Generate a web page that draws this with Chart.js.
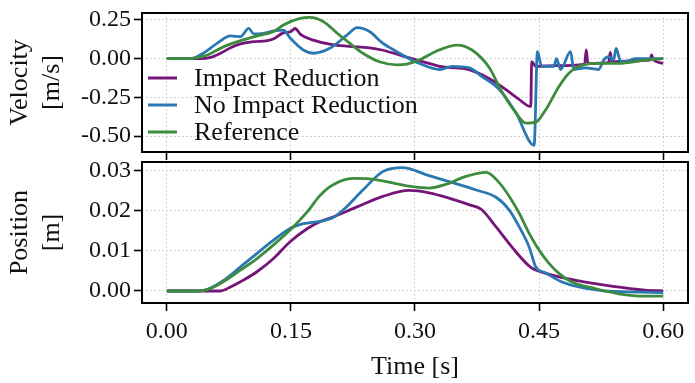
<!DOCTYPE html>
<html>
<head>
<meta charset="utf-8">
<script src="https://cdn.jsdelivr.net/npm/chart.js@4.4.0/dist/chart.umd.min.js"></script>
<style>
body { margin: 0; background: #fff; }
#wrap { position: relative; width: 695px; height: 383px; }
#velWrap { position: absolute; left: 0; top: 0; width: 695px; height: 160px; }
#posWrap { position: absolute; left: 0; top: 157px; width: 695px; height: 226px; }
</style>
</head>
<body>
<div id="wrap">
	<div id="velWrap"><canvas id="velChart"></canvas></div>
	<div id="posWrap"><canvas id="posChart"></canvas></div>
</div>
<script>
const seriesNames = ["Impact Reduction", "No Impact Reduction", "Reference"];
const seriesColors = ["#761578", "#2a78b2", "#3d8c3d"];
const xTicks = [0, 0.15, 0.3, 0.45, 0.6];
const velTicks = [-0.5, -0.25, 0, 0.25];
const posTicks = [0, 0.01, 0.02, 0.03];

// velocity [m/s], pairs of [time, value]
const velImpact = [
	[0, 0], [0.04, 0], [0.053, 0.008], [0.065, 0.035], [0.077, 0.07], [0.089, 0.095],
	[0.105, 0.11], [0.12, 0.115], [0.13, 0.13], [0.14, 0.165], [0.15, 0.175], [0.155, 0.195],
	[0.162, 0.155], [0.177, 0.12], [0.2, 0.09], [0.22, 0.08], [0.245, 0.07], [0.26, 0.056],
	[0.293, 0.005], [0.32, -0.035], [0.33, -0.05], [0.36, -0.065], [0.375, -0.09], [0.39, -0.13],
	[0.41, -0.2], [0.425, -0.26], [0.44, -0.31], [0.441, -0.02], [0.446, -0.05], [0.47, -0.045],
	[0.505, -0.035], [0.507, 0.056], [0.509, -0.03], [0.534, -0.025], [0.536, 0.04], [0.538, -0.02],
	[0.56, -0.015], [0.584, -0.01], [0.586, 0.024], [0.588, -0.005], [0.6, -0.03]
];
const velNoImpact = [
	[0, 0], [0.029, 0], [0.044, 0.035], [0.061, 0.1], [0.077, 0.147], [0.089, 0.142],
	[0.099, 0.196], [0.105, 0.16], [0.117, 0.164], [0.129, 0.179], [0.141, 0.185], [0.149, 0.134],
	[0.165, 0.056], [0.177, 0.035], [0.197, 0.067], [0.218, 0.153], [0.23, 0.2], [0.245, 0.175],
	[0.261, 0.1], [0.278, 0.045], [0.293, 0.0], [0.305, -0.03], [0.33, -0.07], [0.345, -0.05],
	[0.366, -0.06], [0.381, -0.116], [0.402, -0.2], [0.422, -0.35], [0.444, -0.56], [0.448, 0.045],
	[0.453, -0.05], [0.468, -0.05], [0.471, 0.0], [0.476, -0.07], [0.488, 0.045], [0.492, -0.07],
	[0.506, -0.06], [0.522, -0.07], [0.528, -0.01], [0.534, 0.013], [0.54, -0.01], [0.543, 0.067],
	[0.548, -0.01], [0.554, -0.02], [0.566, 0.0], [0.586, 0.0], [0.6, 0.0]
];
const velReference = [
	[0, 0], [0.023, 0], [0.035, 0.005], [0.049, 0.024], [0.069, 0.078], [0.089, 0.116],
	[0.109, 0.147], [0.129, 0.175], [0.141, 0.218], [0.161, 0.26], [0.173, 0.267], [0.189, 0.24],
	[0.206, 0.164], [0.221, 0.1], [0.237, 0.035], [0.257, -0.02], [0.278, -0.04], [0.29, -0.035],
	[0.305, -0.008], [0.329, 0.056], [0.351, 0.088], [0.369, 0.056], [0.39, -0.06], [0.405, -0.213],
	[0.422, -0.35], [0.434, -0.416], [0.446, -0.41], [0.458, -0.33], [0.474, -0.18], [0.486, -0.094],
	[0.498, -0.05], [0.518, -0.03], [0.546, -0.03], [0.578, -0.01], [0.6, 0.0]
];

// position [m], pairs of [time, value]
const posImpact = [
	[0, 0], [0.065, 0], [0.077, 0.001], [0.089, 0.0023], [0.109, 0.0048], [0.129, 0.0081],
	[0.149, 0.0123], [0.17, 0.0156], [0.185, 0.0173], [0.2, 0.0184], [0.23, 0.021], [0.261, 0.0236],
	[0.293, 0.0251], [0.317, 0.0245], [0.341, 0.0232], [0.366, 0.0215], [0.38, 0.0204], [0.398, 0.016],
	[0.417, 0.011], [0.44, 0.0059], [0.458, 0.0044], [0.498, 0.0025], [0.537, 0.0012], [0.578, 0.0002],
	[0.6, 0.0]
];
const posNoImpact = [
	[0, 0], [0.037, 0], [0.05, 0.0005], [0.069, 0.0027], [0.089, 0.006], [0.109, 0.0094],
	[0.129, 0.0127], [0.149, 0.0156], [0.165, 0.0168], [0.185, 0.0174], [0.2, 0.0182], [0.213, 0.0202],
	[0.237, 0.0252], [0.261, 0.0298], [0.285, 0.0308], [0.314, 0.029], [0.341, 0.0273], [0.374, 0.0252],
	[0.398, 0.0234], [0.414, 0.0202], [0.426, 0.016], [0.438, 0.011], [0.446, 0.006], [0.458, 0.0045],
	[0.477, 0.0023], [0.498, 0.001], [0.53, 0.0], [0.558, -0.0002], [0.6, -0.0004]
];
const posReference = [
	[0, 0], [0.037, 0], [0.05, 0.0004], [0.069, 0.0024], [0.089, 0.0052], [0.109, 0.0081],
	[0.129, 0.0115], [0.149, 0.0152], [0.17, 0.0198], [0.185, 0.0238], [0.2, 0.0264], [0.225, 0.0281],
	[0.245, 0.028], [0.27, 0.0271], [0.295, 0.0261], [0.317, 0.0257], [0.337, 0.0266], [0.36, 0.0285],
	[0.386, 0.0296], [0.402, 0.027], [0.414, 0.0236], [0.426, 0.0194], [0.438, 0.0144], [0.45, 0.0102],
	[0.462, 0.0069], [0.474, 0.0044], [0.489, 0.0023], [0.518, 0.0006], [0.546, -0.0007], [0.578, -0.0013],
	[0.6, -0.0013]
];

const serif = "'Liberation Serif', 'Times New Roman', serif";
const gridColor = "#c4c4c4";

function makeDatasets(list) {
	return list.map((pts, i) => ({
		label: seriesNames[i],
		data: pts.map(([x, y]) => ({ x: x, y: y })),
		borderColor: seriesColors[i],
		borderWidth: 2.8,
		pointRadius: 0,
		fill: false,
		cubicInterpolationMode: "monotone",
		order: 2 - i,
	}));
}

function fixTicks(values) {
	return (scale) => {
		scale.ticks = values.map((v) => ({ value: v }));
	};
}

const frame = {
	id: "frame",
	afterDraw(chart) {
		const { ctx, chartArea: a } = chart;
		ctx.save();
		ctx.strokeStyle = "#000";
		ctx.lineWidth = 2;
		ctx.strokeRect(a.left, a.top, a.right - a.left, a.bottom - a.top);
		ctx.restore();
	},
};

const innerLegend = {
	id: "innerLegend",
	afterDraw(chart) {
		const ctx = chart.ctx;
		ctx.save();
		ctx.font = "26px " + serif;
		ctx.textBaseline = "middle";
		const rows = [78, 105, 132];
		chart.data.datasets.forEach((ds, i) => {
			const y = rows[i];
			ctx.strokeStyle = ds.borderColor;
			ctx.lineWidth = 3;
			ctx.beginPath();
			ctx.moveTo(148, y);
			ctx.lineTo(177, y);
			ctx.stroke();
			ctx.fillStyle = "#111";
			ctx.fillText(ds.label, 194, y + 1);
		});
		ctx.restore();
	},
};

function xScale(showLabels, height) {
	return {
		type: "linear",
		min: -0.03,
		max: 0.63,
		afterBuildTicks: fixTicks(xTicks),
		afterFit: (s) => {
			s.height = height;
			s.paddingLeft = 0;
			s.paddingRight = 0;
		},
		ticks: {
			display: showLabels,
			color: "#111",
			padding: 6,
			maxRotation: 0,
			font: { family: serif, size: 24, lineHeight: 1.2 },
			callback: (v) => v.toFixed(2),
		},
		grid: { color: gridColor, lineWidth: 1, tickColor: "#000", tickLength: 8, tickWidth: 1.6, tickBorderDash: [] },
		border: { display: false, dash: [1.5, 2.5] },
		title: {
			display: showLabels,
			text: "Time [s]",
			color: "#111",
			padding: { top: 0, bottom: 0 },
			font: { family: serif, size: 26, lineHeight: 1.2 },
		},
	};
}

function yScale(min, max, ticks, digits, title) {
	return {
		type: "linear",
		min: min,
		max: max,
		afterBuildTicks: fixTicks(ticks),
		afterFit: (s) => {
			s.width = 142;
			s.paddingTop = 0;
			s.paddingBottom = 0;
		},
		ticks: {
			color: "#111",
			padding: 3,
			font: { family: serif, size: 24, lineHeight: 1.2 },
			callback: (v) => v.toFixed(digits),
		},
		grid: { color: gridColor, lineWidth: 1, tickColor: "#000", tickLength: 8, tickWidth: 1.6, tickBorderDash: [] },
		border: { display: false, dash: [1.5, 2.5] },
		title: {
			display: true,
			text: title,
			color: "#111",
			padding: { top: 5, bottom: 0 },
			font: { family: serif, size: 26, lineHeight: 1.2 },
		},
	};
}

const commonOptions = {
	responsive: true,
	maintainAspectRatio: false,
	animation: false,
	plugins: { legend: { display: false }, tooltip: { enabled: false } },
};

const velChart = new Chart(document.getElementById("velChart").getContext("2d"), {
	type: "line",
	data: { datasets: makeDatasets([velImpact, velNoImpact, velReference]) },
	options: {
		...commonOptions,
		layout: { padding: { top: 13, right: 7, left: 0, bottom: 0 } },
		scales: {
			x: xScale(false, 8),
			y: yScale(-0.603, 0.295, velTicks, 2, ["Velocity", "[m/s]"]),
		},
	},
	plugins: [frame, innerLegend],
});

const posChart = new Chart(document.getElementById("posChart").getContext("2d"), {
	type: "line",
	data: { datasets: makeDatasets([posImpact, posNoImpact, posReference]) },
	options: {
		...commonOptions,
		layout: { padding: { top: 5, right: 7, left: 0, bottom: 0 } },
		scales: {
			x: xScale(true, 80),
			y: yScale(-0.003, 0.0322, posTicks, 2, ["Position", "[m]"]),
		},
	},
	plugins: [frame],
});
</script>
</body>
</html>
